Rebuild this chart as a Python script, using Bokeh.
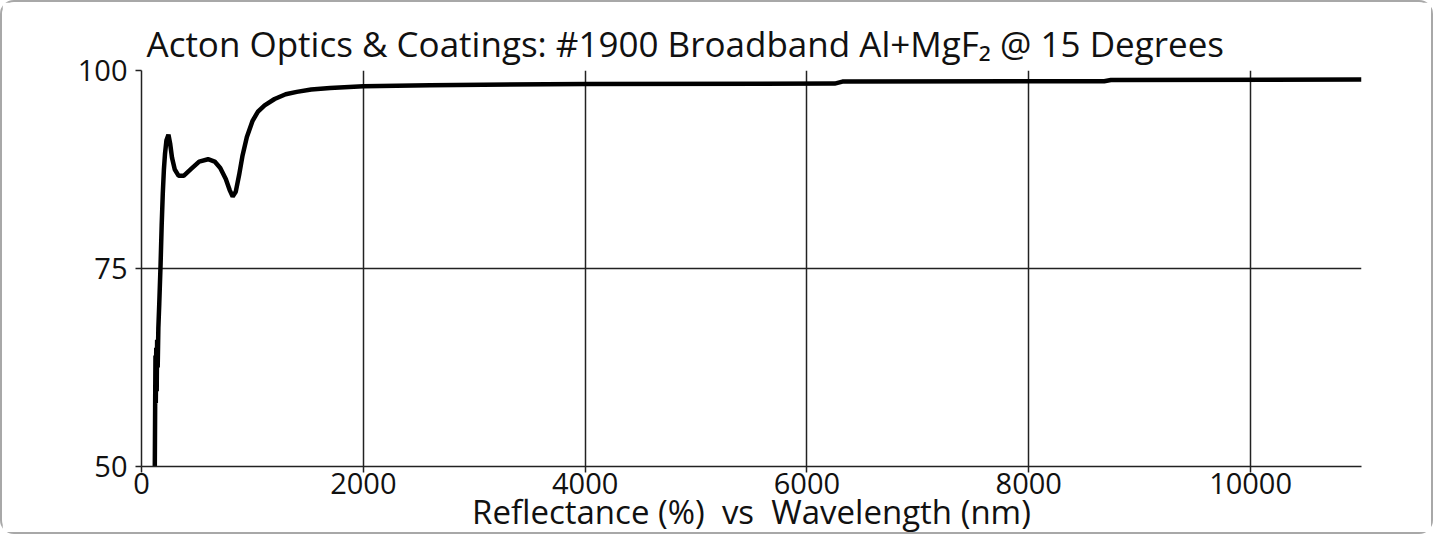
from bokeh.plotting import figure
from bokeh.models import FixedTicker, ColumnDataSource, Range1d
from bokeh.embed import file_html
from bokeh.resources import INLINE

title_text = "Acton Optics & Coatings: #1900 Broadband Al+MgF\u2082 @ 15 Degrees"
x_label = "Reflectance (%)\u00a0 vs\u00a0 Wavelength (nm)"

wavelength_nm = [118, 120, 123, 126, 129, 133, 137, 141, 146, 152, 160, 172, 182, 192,
                 202, 212, 225, 243, 258, 275, 300, 335, 380, 450, 520, 600, 660, 710,
                 760, 795, 822, 850, 880, 910, 950, 1000, 1050, 1110, 1200, 1300, 1400,
                 1530, 1700, 2000, 2600, 4000, 6250, 6320, 8680, 8740, 11000]
reflectance_pct = [48.0, 50.0, 57.5, 64.0, 58.0, 65.0, 59.5, 66.0, 62.5, 67.5, 70.5, 75.5,
                   80.5, 84.5, 87.5, 89.5, 91.2, 91.9, 90.8, 89.0, 87.5, 86.7, 86.7, 87.6,
                   88.5, 88.8, 88.5, 87.7, 86.3, 84.9, 84.1, 84.7, 86.8, 89.2, 91.6, 93.6,
                   94.8, 95.6, 96.4, 97.0, 97.3, 97.6, 97.8, 98.0, 98.15, 98.3, 98.35,
                   98.6, 98.65, 98.8, 98.85]

x_ticks = [0, 2000, 4000, 6000, 8000, 10000]
y_ticks = [50, 75, 100]
x_min, x_max = 0, 11000
y_min, y_max = 50, 100

src = ColumnDataSource(dict(x=wavelength_nm, y=reflectance_pct))

p = figure(width=1433, height=534, output_backend="svg", toolbar_location=None,
           x_range=Range1d(x_min, x_max), y_range=Range1d(y_min, y_max),
           min_border_left=139, min_border_right=74, min_border_top=68,
           min_border_bottom=70,
           styles={"border": "2px solid #a8a8a8", "border-radius": "14px"})

p.title.text = title_text
p.title.text_font = "Open Sans"
p.title.text_font_size = "35px"
p.title.text_font_style = "normal"
p.title.text_color = "#111111"
p.title.align = "left"
p.title.offset = 5
p.title.standoff = 8

p.line("x", "y", source=src, line_width=4.5, line_color="black")

p.outline_line_color = None
p.background_fill_color = "white"
p.border_fill_color = "white"

for ax in (p.xaxis[0], p.yaxis[0]):
    ax.major_label_text_font = "Open Sans"
    ax.major_label_text_font_size = "29px"
    ax.major_label_text_color = "#111111"
    ax.axis_line_color = "#222222"
    ax.axis_line_width = 1.5
    ax.major_tick_line_color = "#222222"
    ax.major_tick_line_width = 1.5
    ax.major_tick_in = 0
    ax.major_tick_out = 6
    ax.minor_tick_line_color = None

p.xaxis.ticker = FixedTicker(ticks=x_ticks)
p.yaxis.ticker = FixedTicker(ticks=y_ticks)
p.xaxis.major_label_standoff = 0
p.yaxis.major_label_standoff = 8
p.xaxis.axis_label = x_label
p.xaxis.axis_label_text_font = "Open Sans"
p.xaxis.axis_label_text_font_size = "33px"
p.xaxis.axis_label_text_font_style = "normal"
p.xaxis.axis_label_text_color = "#111111"
p.xaxis.axis_label_standoff = -8

p.xgrid.ticker = FixedTicker(ticks=x_ticks[1:])
p.ygrid.ticker = FixedTicker(ticks=y_ticks[1:])
p.xgrid.grid_line_color = "#222222"
p.ygrid.grid_line_color = "#222222"
p.xgrid.grid_line_width = 1.5
p.ygrid.grid_line_width = 1.5

open("out.html", "w").write(file_html(p, INLINE))
